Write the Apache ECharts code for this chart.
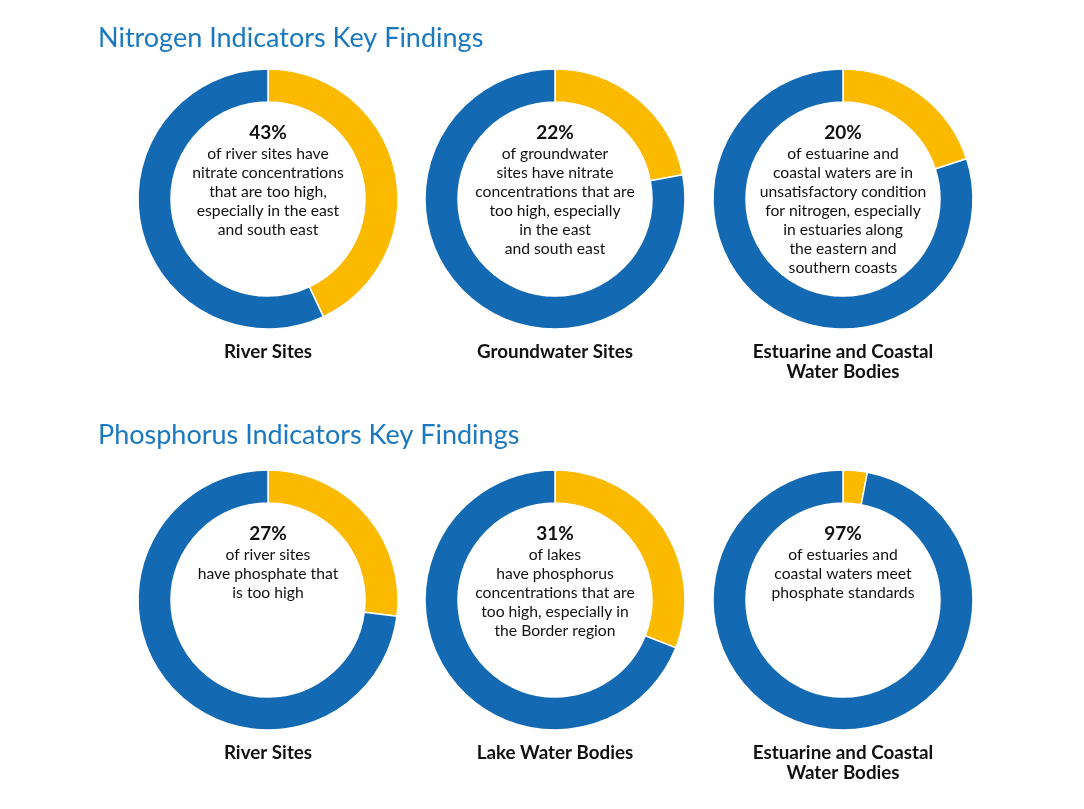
<!DOCTYPE html>
<html>
<head>
<meta charset="utf-8">
<script src="https://cdn.jsdelivr.net/npm/echarts@6/dist/echarts.min.js"></script>
<style>
  html, body { margin: 0; padding: 0; background: #fff; }
  #chart { width: 1084px; height: 809px; }
</style>
</head>
<body>
<div id="chart"></div>
<script>
// section headings
var sections = ['Nitrogen Indicators Key Findings', 'Phosphorus Indicators Key Findings'];

// one entry per donut, nitrogen row first
var names = ['River Sites', 'Groundwater Sites', 'Estuarine and Coastal\nWater Bodies',
             'River Sites', 'Lake Water Bodies', 'Estuarine and Coastal\nWater Bodies'];
var flagged = [43, 22, 20, 27, 31, 3];      // yellow share
var rest = [57, 78, 80, 73, 69, 97];        // blue share
var headline = ['43%', '22%', '20%', '27%', '31%', '97%'];
var notes = [
  'of river sites have\nnitrate concentrations\nthat are too high,\nespecially in the east\nand south east',
  'of groundwater\nsites have nitrate\nconcentrations that are\ntoo high, especially\nin the east\nand south east',
  'of estuarine and\ncoastal waters are in\nunsatisfactory condition\nfor nitrogen, especially\nin estuaries along\nthe eastern and\nsouthern coasts',
  'of river sites\nhave phosphate that\nis too high',
  'of lakes\nhave phosphorus\nconcentrations that are\ntoo high, especially in\nthe Border region',
  'of estuaries and\ncoastal waters meet\nphosphate standards'
];

var BLUE = '#1469b3', YELLOW = '#fbb900';
var FONT = 'Lato, "Noto Sans", sans-serif';
var colX = [268, 555, 843];
var rowY = [199, 600];

var chart = echarts.init(document.getElementById('chart'));

var titles = [];
var series = [];
sections.forEach(function (s, r) {
  titles.push({
    text: s, left: 98, top: r === 0 ? 25 : 422, padding: 0,
    textStyle: { color: '#1a78c0', fontSize: 27, fontWeight: 'normal', fontFamily: FONT }
  });
});

flagged.forEach(function (v, i) {
  var cx = colX[i % 3], cy = rowY[Math.floor(i / 3)];
  series.push({
    type: 'pie',
    center: [cx, cy],
    radius: [97, 130],
    startAngle: 90,
    clockwise: true,
    silent: true,
    animation: false,
    label: { show: false },
    labelLine: { show: false },
    itemStyle: { borderColor: '#fff', borderWidth: 1.5 },
    data: [
      { value: v, name: 'flagged', itemStyle: { color: YELLOW } },
      { value: rest[i], name: 'rest', itemStyle: { color: BLUE } }
    ]
  });
  titles.push({
    text: '{p|' + headline[i] + '}\n{b|' + notes[i].split('\n').join('}\n{b|') + '}',
    left: cx, top: cy - 77, textAlign: 'center', padding: 0,
    textStyle: {
      align: 'center',
      rich: {
        p: { fontSize: 19, fontWeight: 'bold', color: '#111', fontFamily: FONT, lineHeight: 22, align: 'center' },
        b: { fontSize: 15.7, fontWeight: 'normal', color: '#111', fontFamily: FONT, lineHeight: 19, align: 'center' }
      }
    }
  });
  titles.push({
    text: names[i],
    left: cx, top: cy + 143, textAlign: 'center', padding: 0,
    textStyle: { fontSize: 18.8, fontWeight: 'bold', color: '#111', fontFamily: FONT, lineHeight: 20, align: 'center' }
  });
});

chart.setOption({
  backgroundColor: '#fff',
  title: titles,
  series: series
});
</script>
</body>
</html>
